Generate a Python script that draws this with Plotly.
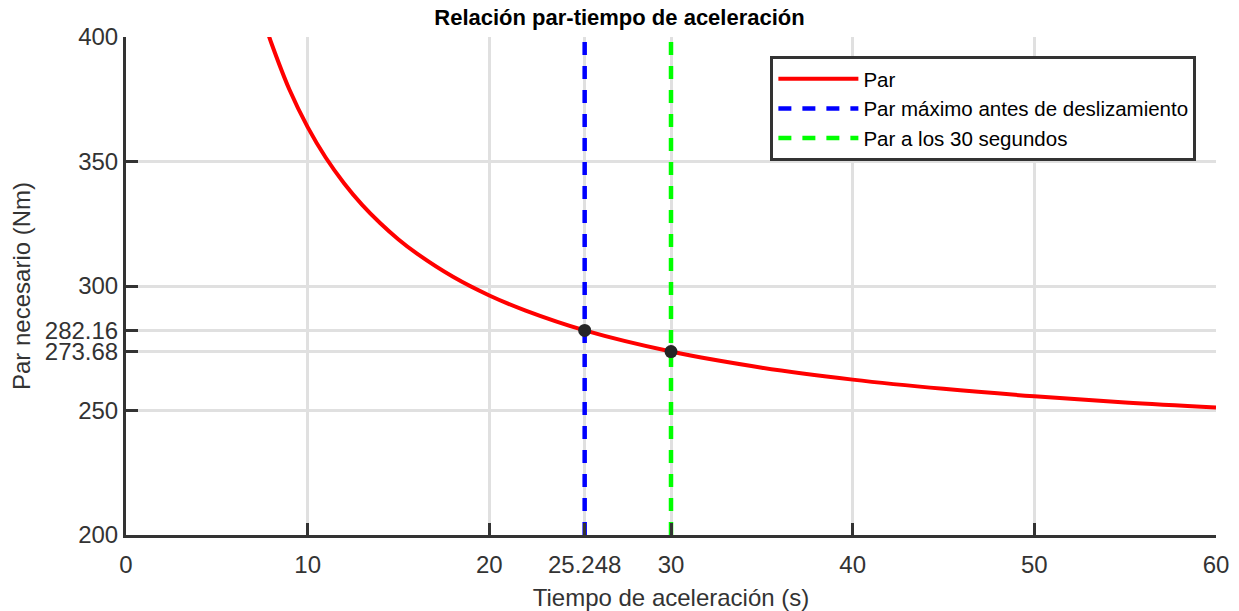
import plotly.graph_objects as go

# Curve values
t_vals = [7.8, 8, 9, 10, 11, 12, 13, 14, 15, 16, 18, 20, 22, 25.248, 30, 35, 40, 45, 50, 55, 60]
par_vals = [401.9, 397.6, 378.8, 363.8, 351.5, 341.3, 332.6, 325.2, 318.7, 313.1, 303.7,
            296.2, 290.1, 282.16, 273.68, 267.2, 262.4, 258.7, 255.7, 253.2, 251.2]

t_max = 25.248
par_max = 282.16
t_30 = 30
par_30 = 273.68

x_ticks = [0, 10, 20, 25.248, 30, 40, 50, 60]
x_ticklabels = ["0", "10", "20", "25.248", "30", "40", "50", "60"]
y_ticks = [200, 250, 273.68, 282.16, 300, 350, 400]
y_ticklabels = ["200", "250", "273.68", "282.16", "300", "350", "400"]

FONT = "Liberation Sans, Arial, sans-serif"
AX = "#333333"

fig = go.Figure()
fig.add_trace(go.Scatter(x=t_vals, y=par_vals, mode="lines", name="Par",
                         line=dict(color="#ff0000", width=4, shape="spline")))
fig.add_trace(go.Scatter(x=[t_max, t_max], y=[200, 400], mode="lines",
                         name="Par máximo antes de deslizamiento",
                         line=dict(color="#0000ff", width=4.5, dash="13px,11px")))
fig.add_trace(go.Scatter(x=[t_30, t_30], y=[200, 400], mode="lines",
                         name="Par a los 30 segundos",
                         line=dict(color="#00ff00", width=4.5, dash="13px,11px")))
fig.add_trace(go.Scatter(x=[t_max, t_30], y=[par_max, par_30], mode="markers",
                         showlegend=False,
                         marker=dict(color="#262626", size=13)))

fig.update_layout(
    width=1239, height=611,
    margin=dict(l=126, r=23, t=37, b=76),
    paper_bgcolor="white", plot_bgcolor="white",
    font=dict(family=FONT, color=AX, size=24),
    title=dict(text="<b>Relación par-tiempo de aceleración</b>", x=0.5, xanchor="center",
               y=0.972, yanchor="middle", font=dict(size=22, color="black", family=FONT)),
    legend=dict(x=0.982, xanchor="right", y=0.962, yanchor="top",
                bgcolor="white", bordercolor=AX, borderwidth=3,
                font=dict(size=20.5, color="black", family=FONT),
                tracegroupgap=0, itemwidth=80),
    showlegend=True,
)
fig.update_xaxes(range=[0, 60], tickmode="array", tickvals=x_ticks, ticktext=x_ticklabels,
                 showgrid=True, gridcolor="#e0e0e0", gridwidth=3,
                 showline=True, linecolor=AX, linewidth=3,
                 ticks="inside", ticklen=12, tickwidth=3, tickcolor=AX,
                 ticklabelstandoff=6, automargin=False,
                 zeroline=False,
                 title=dict(text="Tiempo de aceleración (s)", font=dict(size=24)),
                 tickfont=dict(size=24))
fig.update_yaxes(range=[200, 400], tickmode="array", tickvals=y_ticks, ticktext=y_ticklabels,
                 showgrid=True, gridcolor="#e0e0e0", gridwidth=3,
                 showline=True, linecolor=AX, linewidth=3,
                 ticks="inside", ticklen=12, tickwidth=3, tickcolor=AX,
                 zeroline=False,
                 title=dict(text="Par necesario (Nm)", standoff=8, font=dict(size=24)),
                 tickfont=dict(size=24))

fig.write_html("out.html", post_script="document.body.style.margin='0';",
               config={"displayModeBar": False})
